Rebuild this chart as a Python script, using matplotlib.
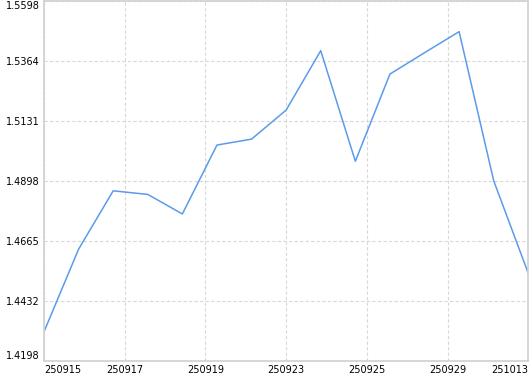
import numpy as np
import matplotlib
matplotlib.use("Agg")
import matplotlib.pyplot as plt

# daily values, 15 trading days 250915 .. 251013
values = [1.4313, 1.4634, 1.4861, 1.4847, 1.4771, 1.5039, 1.5062, 1.5175,
          1.5406, 1.4976, 1.5315, 1.5398, 1.5480, 1.4900, 1.4540]
x_labels = ["250915", "250917", "250919", "250923", "250925", "250929", "251013"]
y_ticks = [1.4198, 1.44313, 1.46647, 1.4898, 1.51313, 1.53647, 1.5598]
y_labels = ["1.4198", "1.4432", "1.4665", "1.4898", "1.5131", "1.5364", "1.5598"]

W, H = 530, 374
fig = plt.figure(figsize=(W / 100, H / 100), dpi=100)
ax = fig.add_axes([44 / W, (H - 361.3) / H, (528.3 - 44) / W, (361.3 - 1.3) / H])

idx = np.arange(len(values))
ax.plot(idx, values, color="#5b9bea", linewidth=1.1)

ax.set_xlim(0, len(values) - 1)
ax.set_ylim(y_ticks[0], y_ticks[-1])

xt = np.linspace(0, len(values) - 1, len(x_labels))
ax.set_xticks(xt)
ax.set_xticklabels(x_labels, fontsize=7)
ax.set_yticks(y_ticks)
ax.set_yticklabels(y_labels, fontsize=7)

ax.tick_params(axis="both", length=0, colors="black")
ax.tick_params(axis="x", pad=2.5)
ax.tick_params(axis="y", pad=3)

xl = ax.get_xticklabels()
xl[0].set_ha("left")
xl[-1].set_ha("right")
yl = ax.get_yticklabels()
yl[0].set_va("bottom")
yl[-1].set_va("top")

ax.grid(True, color="#d8d8d8", linestyle=(0, (3, 2)), linewidth=0.8)
for s in ["left", "bottom", "top", "right"]:
    ax.spines[s].set_color("#d0d0d0")
    ax.spines[s].set_linewidth(1.2)

fig.savefig("out.png", dpi=100)
